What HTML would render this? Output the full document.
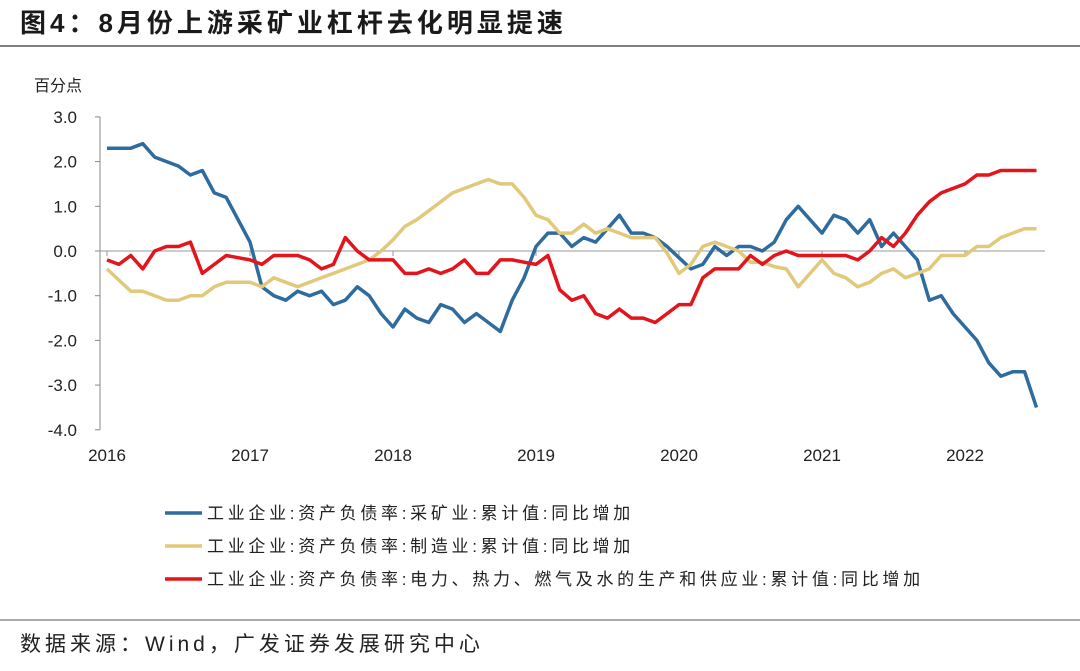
<!DOCTYPE html>
<html><head><meta charset="utf-8">
<style>
body{margin:0;background:#fff;width:1080px;height:666px;overflow:hidden;font-family:"Liberation Sans","Noto Sans CJK SC",sans-serif;}
svg text{font-family:"Liberation Sans","Noto Sans CJK SC",sans-serif;}
</style></head>
<body>
<svg id="chart" width="1080" height="666">
<text x="20" y="32" font-size="26" font-weight="bold" fill="#1a1a1a" letter-spacing="4">图4：8月份上游采矿业杠杆去化明显提速</text>
<line x1="0" y1="46" x2="1080" y2="46" stroke="#555" stroke-width="1.5"/>
<text x="34" y="91" font-size="16" fill="#222">百分点</text>
<g id="axes"></g>
<g id="series"></g>
<g id="legend"></g>
<line x1="0" y1="620" x2="1080" y2="620" stroke="#555" stroke-width="1"/>
<text x="20" y="651" font-size="21" fill="#222" letter-spacing="4">数据来源：Wind，广发证券发展研究中心</text>
</svg>
<script>
const yTicks=[3,2,1,0,-1,-2,-3,-4];
const yTickLabels=["3.0","2.0","1.0","0.0","-1.0","-2.0","-3.0","-4.0"];
const xYears=["2016","2017","2018","2019","2020","2021","2022"];
const mining=[2.3,2.3,2.3,2.4,2.1,2.0,1.9,1.7,1.8,1.3,1.2,0.7,0.2,-0.8,-1.0,-1.1,-0.9,-1.0,-0.9,-1.2,-1.1,-0.8,-1.0,-1.4,-1.7,-1.3,-1.5,-1.6,-1.2,-1.3,-1.6,-1.4,-1.6,-1.8,-1.1,-0.6,0.1,0.4,0.4,0.1,0.3,0.2,0.5,0.8,0.4,0.4,0.3,0.1,-0.15,-0.4,-0.3,0.1,-0.1,0.1,0.1,0.0,0.2,0.7,1.0,0.7,0.4,0.8,0.7,0.4,0.7,0.1,0.4,0.1,-0.2,-1.1,-1.0,-1.4,-1.7,-2.0,-2.5,-2.8,-2.7,-2.7,-3.5];
const manuf=[-0.4,-0.65,-0.9,-0.9,-1.0,-1.1,-1.1,-1.0,-1.0,-0.8,-0.7,-0.7,-0.7,-0.8,-0.6,-0.7,-0.8,-0.7,-0.6,-0.5,-0.4,-0.3,-0.2,0.0,0.25,0.55,0.7,0.9,1.1,1.3,1.4,1.5,1.6,1.5,1.5,1.2,0.8,0.7,0.4,0.4,0.6,0.4,0.5,0.4,0.3,0.3,0.3,-0.05,-0.5,-0.3,0.1,0.2,0.1,0.0,-0.25,-0.25,-0.35,-0.4,-0.8,-0.5,-0.2,-0.5,-0.6,-0.8,-0.7,-0.5,-0.4,-0.6,-0.5,-0.4,-0.1,-0.1,-0.1,0.1,0.1,0.3,0.4,0.5,0.5];
const utility=[-0.2,-0.3,-0.1,-0.4,0.0,0.1,0.1,0.2,-0.5,-0.3,-0.1,-0.15,-0.2,-0.3,-0.1,-0.1,-0.1,-0.2,-0.4,-0.3,0.3,0.0,-0.2,-0.2,-0.2,-0.5,-0.5,-0.4,-0.5,-0.4,-0.2,-0.5,-0.5,-0.2,-0.2,-0.25,-0.3,-0.1,-0.87,-1.1,-1.0,-1.4,-1.5,-1.3,-1.5,-1.5,-1.6,-1.4,-1.2,-1.2,-0.6,-0.4,-0.4,-0.4,-0.1,-0.3,-0.1,0.0,-0.1,-0.1,-0.1,-0.1,-0.1,-0.2,0.0,0.3,0.1,0.4,0.8,1.1,1.3,1.4,1.5,1.7,1.7,1.8,1.8,1.8,1.8];
const seriesNames=["工业企业:资产负债率:采矿业:累计值:同比增加","工业企业:资产负债率:制造业:累计值:同比增加","工业企业:资产负债率:电力、热力、燃气及水的生产和供应业:累计值:同比增加"];

const NS="http://www.w3.org/2000/svg";
const X0=107, STEP=143/12, Y0=251, YU=44.7;
const xs=i=>X0+i*STEP;
const ys=v=>Y0-v*YU;
function mk(tag,attrs,parent){const e=document.createElementNS(NS,tag);for(const k in attrs)e.setAttribute(k,attrs[k]);parent.appendChild(e);return e;}
const axes=document.getElementById('axes');
let yl=mk('line',{x1:100,y1:ys(3),x2:100,y2:ys(-4),stroke:'#888','stroke-width':1},axes);


yTicks.forEach((v,i)=>{
  let t=mk('line',{x1:95,y1:ys(v),x2:100,y2:ys(v),stroke:'#888'},axes);
  
  
  let tx=mk('text',{x:77,y:ys(v)+6,'text-anchor':'end','font-size':17,fill:'#222'},axes);
  tx.textContent=yTickLabels[i];
  
  
});
let xl=mk('line',{x1:100,y1:ys(0),x2:1045,y2:ys(0),stroke:'#999','stroke-width':1},axes);


xYears.forEach((y,i)=>{
  const x=xs(i*12);
  let t=mk('line',{x1:x,y1:ys(0),x2:x,y2:ys(0)+5,stroke:'#999'},axes);
  
  
  let tx=mk('text',{x:x,y:461,'text-anchor':'middle','font-size':17,fill:'#222'},axes);
  tx.textContent=y;
  
  
});
const sg=document.getElementById('series');
const defs=[[mining,'#2e6b9e','mining-line'],[manuf,'#e0c97a','manufacturing-line'],[utility,'#e3141b','utility-line']];
defs.forEach(([d,c,n])=>{
  let p=mk('polyline',{points:d.map((v,i)=>xs(i).toFixed(1)+','+ys(v).toFixed(1)).join(' '),fill:'none',stroke:c,'stroke-width':3.5,'stroke-linejoin':'round'},sg);
  
  
});
const lg=document.getElementById('legend');
defs.forEach(([d,c,n],i)=>{
  const y=513+i*33;
  let l=mk('line',{x1:165,y1:y,x2:202,y2:y,stroke:c,'stroke-width':3.5},lg);
  
  
  let t=mk('text',{x:207,y:y+6,'font-size':17,fill:'#222','letter-spacing':3.7},lg);
  t.textContent=seriesNames[i];
  
  
});
</script>
</body></html>
